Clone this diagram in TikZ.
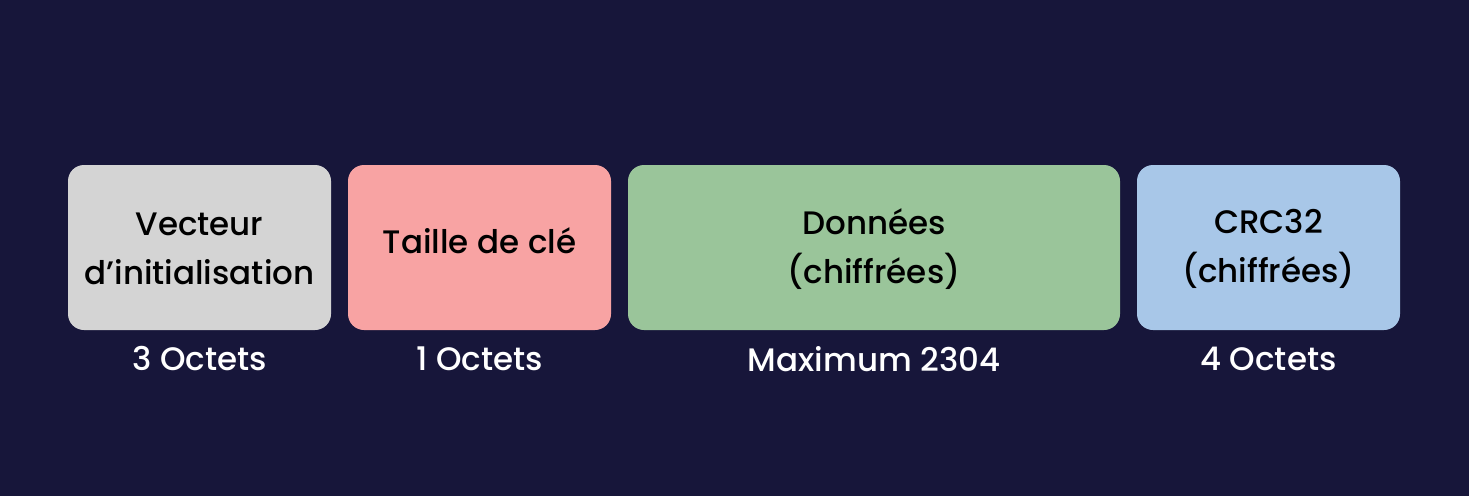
\documentclass[tikz,border=0pt]{standalone}
\usepackage{fontspec}
\setmainfont{Poppins}[UprightFont=* Medium]
\definecolor{bgc}{HTML}{17163A}
\definecolor{grayc}{HTML}{D4D4D4}
\definecolor{pinkc}{HTML}{F8A3A3}
\definecolor{greenc}{HTML}{9AC59A}
\definecolor{bluec}{HTML}{A8C7E8}
\tikzset{
  field/.style={rounded corners=16pt, inner sep=0pt, align=center, font=\fontsize{32.5}{49}\selectfont, text=black},
  caption/.style={font=\fontsize{32.5}{38}\selectfont, text=white, anchor=center}
}
\begin{document}
\begin{tikzpicture}[x=1pt,y=-1pt]
\fill[bgc] (0,0) rectangle (1469,496);
\useasboundingbox (0,0) rectangle (1469,496);
\fill[grayc, rounded corners=16pt] (68,165) rectangle (331,330);
\fill[pinkc, rounded corners=16pt] (348,165) rectangle (611,330);
\fill[greenc, rounded corners=16pt] (628,165) rectangle (1120,330);
\fill[bluec, rounded corners=16pt] (1137,165) rectangle (1400,330);
\node[field] (iv) at (199.5,249) {Vecteur\\d’initialisation};
\node[field] (ks) at (479.5,241) {Taille de clé};
\node[field] (dt) at (874,249) {Données\\(chiffrées)};
\node[field] (crc) at (1268.5,249) {CRC32\\(chiffrées)};
\node[caption] (l1) at (199.5,359) {3 Octets};
\node[caption] (l2) at (479.5,359) {1 Octets};
\node[caption] (l3) at (874,359) {Maximum 2304};
\node[caption] (l4) at (1268.5,359) {4 Octets};
\end{tikzpicture}
\end{document}
